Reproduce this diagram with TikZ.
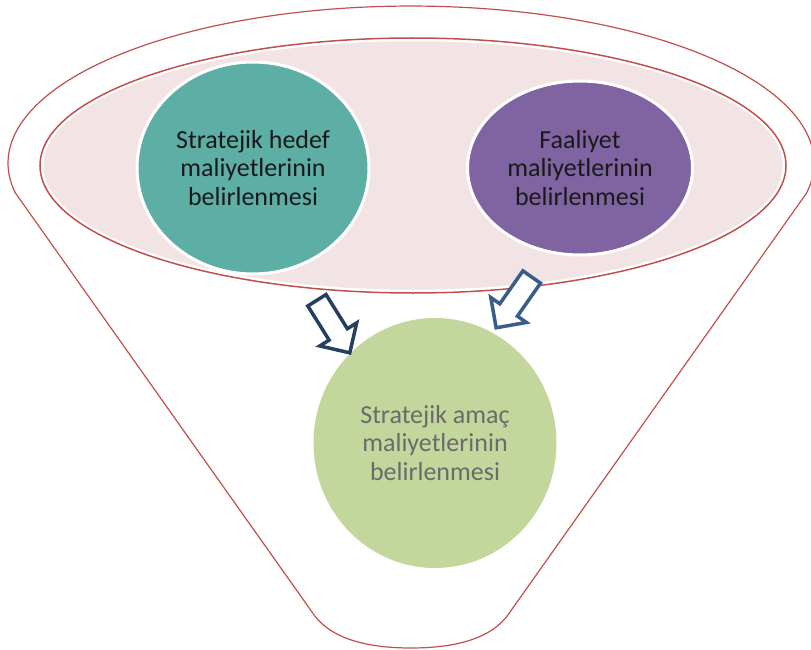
\documentclass[tikz,border=0pt]{standalone}
\usepackage{fontspec}
\setmainfont{Carlito}
\usepackage{xcolor}
\usepackage{tikz}
\usetikzlibrary{shapes.geometric}
\usetikzlibrary{shapes.arrows}
\usetikzlibrary{positioning}

\definecolor{funnelred}{HTML}{C0504D}
\definecolor{bowlpink}{HTML}{F2E4E4}
\definecolor{hedefteal}{HTML}{5DAFA5}
\definecolor{faaliyetpurple}{HTML}{8064A2}
\definecolor{amacgreen}{HTML}{C3D69B}
\definecolor{amacgray}{HTML}{6B6B6B}
\definecolor{arrownavy}{HTML}{243F60}
\definecolor{arrowblue}{HTML}{385D8A}

\begin{document}
\begin{tikzpicture}[x=1pt, y=-1pt,
  bubble/.style={ellipse, draw=white, line width=3pt, align=center, inner sep=0pt,
    text=black!90, font=\fontsize{26}{28.5}\selectfont},
  blockarrow/.style={single arrow, draw=#1, fill=white, line width=3.5pt,
    minimum height=62pt, inner xsep=0pt, inner ysep=9pt, single arrow head extend=11pt}]
  % ===== Frame =====
  \useasboundingbox (0,0) rectangle (811,650);

  % Funnel outline
  \draw[funnelred, line width=1.2pt] (15.4,193) -- (312,612)
    .. controls (330,640) and (370,648) .. (411,648)
    .. controls (452,648) and (492,640) .. (510,612)
    -- (806.6,193) arc[start angle=11, end angle=-191, x radius=403, y radius=157] -- cycle;

  % Bowl of the funnel
  \draw[funnelred, line width=1.5pt] (413,165.5) ellipse[x radius=373, y radius=127.5];
  \fill[bowlpink, draw=white, line width=1.5pt] (413,165.5) ellipse[x radius=370.5, y radius=125];

  % Circles
  \node[bubble, fill=hedefteal, minimum width=232pt, minimum height=212pt] (hedef) at (253,168)
    {Stratejik hedef\\maliyetlerinin\\belirlenmesi};
  \node[bubble, fill=faaliyetpurple, minimum width=225pt, minimum height=174pt] (faaliyet) at (580,168)
    {Faaliyet\\maliyetlerinin\\belirlenmesi};
  \node[bubble, draw=none, fill=amacgreen, text=amacgray, minimum width=243pt, minimum height=250pt] (amac) at (435,443)
    {Stratejik amaç\\maliyetlerinin\\belirlenmesi};

  % Arrows into the result
  \node[blockarrow=arrownavy, rotate=-58] (hedefarrow) at (330.5,322) {};
  \node[blockarrow=arrowblue, rotate=-125] (faaliyetarrow) at (517,298) {};
\end{tikzpicture}
\end{document}
